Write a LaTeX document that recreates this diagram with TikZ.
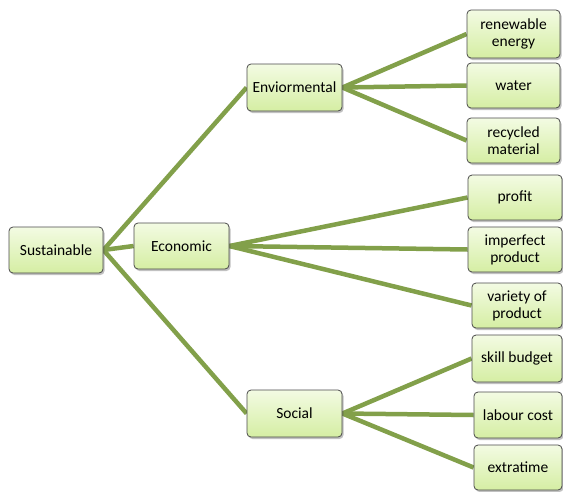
\documentclass[tikz,border=0pt]{standalone}
\usepackage{fontspec}
\setmainfont{Carlito}
\usetikzlibrary{shadows,backgrounds}
\definecolor{olive}{HTML}{82A04A}
\definecolor{boxtop}{HTML}{F3FBE3}
\definecolor{boxbot}{HTML}{D5EEA3}
\definecolor{boxline}{HTML}{4A4A4A}
\tikzset{
  box/.style={draw=boxline,line width=0.8pt,rounded corners=4pt,top color=boxtop,bottom color=boxbot,
    align=center,font=\fontsize{15.5}{17}\selectfont,inner sep=2pt,
    drop shadow={shadow xshift=1.5pt,shadow yshift=-2pt,opacity=0.35,fill=black!70}},
  link/.style={draw=olive,line width=4.5pt},
}
\begin{document}
\begin{tikzpicture}[x=1pt,y=-1pt]
  \useasboundingbox (0,0) rectangle (563,491);
  % root and middle column
  \node[box,minimum width=94pt,minimum height=46pt] (sus) at (56,250) {Sustainable};
  \node[box,minimum width=95pt,minimum height=46pt] (eco) at (181.5,246) {Economic};
  \node[box,minimum width=95pt,minimum height=47pt] (env) at (294.5,87.5) {Enviormental};
  \node[box,minimum width=95pt,minimum height=47pt] (soc) at (294.5,413.5) {Social};
  % right column
  \node[box,minimum width=93pt,minimum height=48pt] (ren) at (513.5,34) {renewable\\energy};
  \node[box,minimum width=93pt,minimum height=45pt] (wat) at (513.5,85.5) {water};
  \node[box,minimum width=93pt,minimum height=45pt] (rec) at (513.5,140.5) {recycled\\material};
  \node[box,minimum width=94pt,minimum height=45pt] (pro) at (515,197.5) {profit};
  \node[box,minimum width=94pt,minimum height=45pt] (imp) at (515,249.5) {imperfect\\product};
  \node[box,minimum width=90pt,minimum height=45pt] (var) at (517,305.5) {variety of\\product};
  \node[box,minimum width=90pt,minimum height=47pt] (ski) at (517,358.5) {skill budget};
  \node[box,minimum width=88pt,minimum height=46pt] (lab) at (518,415) {labour cost};
  \node[box,minimum width=88pt,minimum height=45pt] (ext) at (518,467.5) {extratime};
  % connectors
  \begin{pgfonlayer}{background}
    \foreach \t in {env,eco,soc} { \draw[link] (sus.east) -- (\t.west); }
    \foreach \t in {ren,wat,rec} { \draw[link] (env.east) -- (\t.west); }
    \foreach \t in {pro,imp,var} { \draw[link] (eco.east) -- (\t.west); }
    \foreach \t in {ski,lab,ext} { \draw[link] (soc.east) -- (\t.west); }
  \end{pgfonlayer}
\end{tikzpicture}
\end{document}
